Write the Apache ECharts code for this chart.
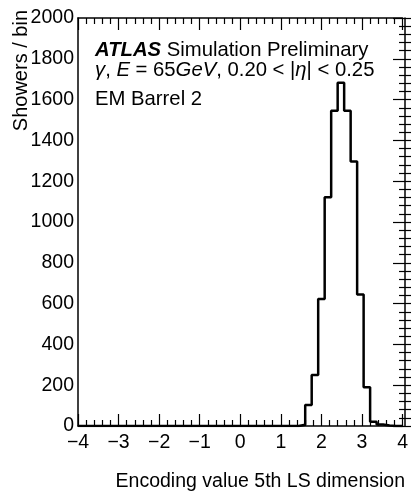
<!DOCTYPE html>
<html>
<head>
<meta charset="utf-8">
<script src="https://cdn.jsdelivr.net/npm/echarts@6/dist/echarts.min.js"></script>
<style>
html,body{margin:0;padding:0;background:#fff;}
#c{width:411px;height:494px;}
</style>
</head>
<body>
<div id="c"></div>
<script>
// Histogram: 50 bins from -4 to 4 (width 0.16)
const binStart = -4;
const binWidth = 0.16;
const counts = [
  0,0,0,0,0,0,0,0,0,0,
  0,0,0,0,0,0,0,0,0,0,
  0,0,0,0,0,0,0,0,0,0,
  0,0,0,0,6,103,250,622,1121,1545,
  1683,1545,1296,645,190,21,7,2,0,0
];
const xTicks = [-4,-3,-2,-1,0,1,2,3,4];
const yTicks = [0,200,400,600,800,1000,1200,1400,1600,1800,2000];

const pts = counts.map((c,i)=>[binStart + binWidth*i, c]);
pts.push([binStart + binWidth*counts.length, counts[counts.length-1]]);

const FONT = 'Liberation Sans, Arial, Helvetica, sans-serif';
const FS = 19.5;
const fmtX = v => v < 0 ? '\u2212' + Math.abs(v) : String(v);

const GL = 78, GR = 6, GT = 18, GB = 68;
const W = 411, H = 494;
const gw = W - GL - GR, gh = H - GT - GB;

const tickCfg = {show:true, inside:false, length:12, lineStyle:{color:'#000', width:1.2}};
const minorCfg = {show:true, splitNumber:5, length:6, lineStyle:{color:'#000', width:1.2}};

const xBase = {type:'value', min:xTicks[0], max:xTicks[xTicks.length-1], interval:1, splitLine:{show:false}};
const yBase = {type:'value', min:yTicks[0], max:yTicks[yTicks.length-1], interval:200, splitLine:{show:false}};

const xAxes = [
  Object.assign({}, xBase, {position:'bottom',
    axisLine:{show:true, onZero:false, lineStyle:{color:'#000', width:1.5}},
    axisTick:{show:false}, minorTick:{show:false},
    axisLabel:{show:true, formatter:fmtX, color:'#000', fontFamily:FONT, fontSize:FS, margin:7}}),
  Object.assign({}, xBase, {position:'top', offset:-gh,
    axisLine:{show:false}, axisTick:tickCfg, minorTick:minorCfg, axisLabel:{show:false}}),
  Object.assign({}, xBase, {position:'bottom', offset:-gh,
    axisLine:{show:true, onZero:false, lineStyle:{color:'#000', width:1.5}},
    axisTick:tickCfg, minorTick:minorCfg, axisLabel:{show:false}})
];
const yAxes = [
  Object.assign({}, yBase, {position:'left',
    axisLine:{show:true, onZero:false, lineStyle:{color:'#000', width:1.5}},
    axisTick:{show:false}, minorTick:{show:false},
    axisLabel:{show:true, formatter:v=>String(v), color:'#000', fontFamily:FONT, fontSize:FS, margin:4}}),
  Object.assign({}, yBase, {position:'right', offset:-gw,
    axisLine:{show:false}, axisTick:tickCfg, minorTick:minorCfg, axisLabel:{show:false}}),
  Object.assign({}, yBase, {position:'left', offset:-gw,
    axisLine:{show:true, onZero:false, lineStyle:{color:'#000', width:1.5}},
    axisTick:tickCfg, minorTick:minorCfg, axisLabel:{show:false}})
];

const chart = echarts.init(document.getElementById('c'), null, {renderer:'canvas'});
chart.setOption({
  animation:false,
  backgroundColor:'#fff',
  grid:{left:GL, right:GR, top:GT, bottom:GB, containLabel:false},
  xAxis:xAxes,
  yAxis:yAxes,
  series:[{
    type:'line', step:'end', data:pts, symbol:'none',
    lineStyle:{color:'#000', width:2.5}, z:5
  }],
  graphic:[
    {type:'text', x:95, y:50.5, style:{
      text:'{b|ATLAS} Simulation Preliminary', textVerticalAlign:'middle',
      font: '20.3px '+FONT, fill:'#000',
      rich:{b:{fontWeight:'bold', fontStyle:'italic', fontFamily:FONT, fontSize:20.3}}
    }},
    {type:'text', x:95, y:70.5, style:{
      text:'{i|γ}, {i|E} = 65{i|GeV}, 0.20 < |{i|η}| < 0.25', textVerticalAlign:'middle',
      font: '20.3px '+FONT, fill:'#000',
      rich:{i:{fontStyle:'italic', fontFamily:FONT, fontSize:20.3}}
    }},
    {type:'text', x:95, y:99, style:{
      text:'EM Barrel 2', textVerticalAlign:'middle', font: '20.3px '+FONT, fill:'#000'
    }},
    {type:'text', x:405, y:482, style:{
      text:'Encoding value 5th LS dimension', textAlign:'right', textVerticalAlign:'middle',
      font: FS+'px '+FONT, fill:'#000'
    }},
    {type:'text', x:21, y:10, rotation:Math.PI/2, style:{
      text:'Showers / bin', textAlign:'right', textVerticalAlign:'middle',
      font: '20px '+FONT, fill:'#000'
    }}
  ]
});
</script>
</body>
</html>
